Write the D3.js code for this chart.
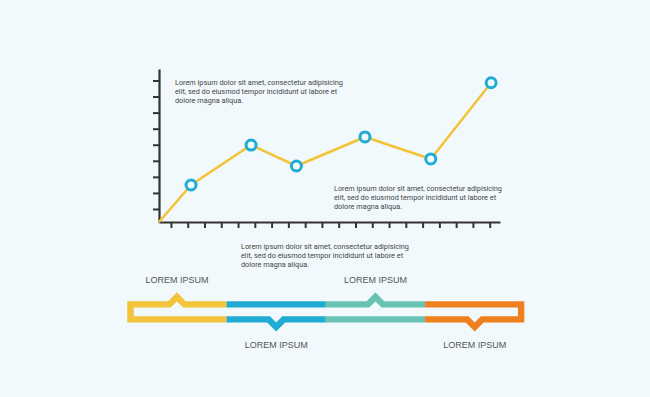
<!doctype html>
<html>
<head>
<meta charset="utf-8">
<script src="https://d3js.org/d3.v7.min.js"></script>
<style>
  html, body { margin: 0; padding: 0; background: #f1f9fd; }
  svg { display: block; }
</style>
</head>
<body>
<svg id="chart" width="650" height="397"></svg>
<script>

// line chart values (x along the axis, y height)
var xValues = [0, 9.4, 27.0, 40.3, 60.4, 79.7, 97.4];
var yValues = [0, 24.2, 50.3, 36.6, 55.6, 41.2, 91.0];

// axis ticks (no labels in the picture)
var xTicks = d3.range(20).map(function(i) { return 3.5 + i * 4.92; });
var yTicks = d3.range(9).map(function(i) { return 8.5 + i * 10.5; });

// text blocks
var noteLines = [
  "Lorem ipsum dolor sit amet, consectetur adipisicing",
  "elit, sed do eiusmod tempor incididunt ut labore et",
  "dolore magna aliqua."
];

// timeline band
var bandNames  = ["LOREM IPSUM", "LOREM IPSUM", "LOREM IPSUM", "LOREM IPSUM"];
var bandColors = ["#f3c43a", "#20abd5", "#69c2b3", "#f0801f"];
var bandSides  = ["up", "down", "up", "down"];

var svg = d3.select("#chart");

svg.append("rect")
   .attr("width", 650)
   .attr("height", 397)
   .attr("fill", "#f1f9fd");

var xScale = d3.scaleLinear().domain([0, 100]).range([159, 500]);
var yScale = d3.scaleLinear().domain([0, 100]).range([222, 69]);

var xAxis = svg.append("g")
   .attr("transform", "translate(0,222)")
   .call(d3.axisBottom(xScale).tickValues(xTicks).tickSize(6).tickSizeOuter(0).tickFormat(""));

var yAxis = svg.append("g")
   .attr("transform", "translate(159,0)")
   .call(d3.axisLeft(yScale).tickValues(yTicks).tickSize(6).tickSizeOuter(0).tickFormat(""));

svg.selectAll(".domain").attr("stroke", "#333").attr("stroke-width", 2.2);
svg.selectAll(".tick line").attr("stroke", "#333").attr("stroke-width", 2);

// paragraphs
function note(x, y) {
  var t = svg.append("text")
     .attr("x", x)
     .attr("y", y)
     .attr("font-family", "Roboto, sans-serif")
     .attr("font-size", "7.3px")
     .attr("fill", "#454545");
  t.selectAll("tspan")
   .data(noteLines)
   .enter().append("tspan")
   .attr("x", x)
   .attr("dy", function(d, i) { return i === 0 ? 0 : 9.3; })
   .text(function(d) { return d; });
}
note(175, 84.7);
note(334, 190.5);
note(241, 248.7);

// line + markers
var pts = xValues.map(function(d, i) { return [d, yValues[i]]; });

svg.append("path")
   .datum(pts)
   .attr("d", d3.line()
     .x(function(d) { return xScale(d[0]); })
     .y(function(d) { return yScale(d[1]); }))
   .attr("fill", "none")
   .attr("stroke", "#f3c43a")
   .attr("stroke-width", 2.6);

svg.selectAll(".dot")
   .data(pts.slice(1))
   .enter().append("circle")
   .attr("class", "dot")
   .attr("cx", function(d) { return xScale(d[0]); })
   .attr("cy", function(d) { return yScale(d[1]); })
   .attr("r", 5)
   .attr("fill", "#f1f9fd")
   .attr("stroke", "#20abd5")
   .attr("stroke-width", 3);

// timeline band
var bScale = d3.scaleBand().domain(d3.range(bandNames.length)).range([127.3, 524.3]);
var yTop = 304.4, yBot = 319.4, nh = 7.5, sw = 6.4;
var line = d3.line();

bandNames.forEach(function(name, i) {
  var x0 = bScale(i), x1 = x0 + bScale.bandwidth(), cx = x0 + bScale.bandwidth() / 2;
  var first = i === 0, last = i === bandNames.length - 1;
  var top = [[x0, yTop], [x1, yTop]];
  var bot = [[x0, yBot], [x1, yBot]];
  if (bandSides[i] === "up") {
    top = [[x0, yTop], [cx - nh, yTop], [cx, yTop - nh], [cx + nh, yTop], [x1, yTop]];
  } else {
    bot = [[x0, yBot], [cx - nh, yBot], [cx, yBot + nh], [cx + nh, yBot], [x1, yBot]];
  }
  var paths = [];
  if (first) {
    top[0][0] = x0 + sw / 2;
    bot[0][0] = x0 + sw / 2;
    paths.push(top.slice().reverse().concat(bot));
  } else if (last) {
    top[top.length - 1][0] = x1 - sw / 2;
    bot[bot.length - 1][0] = x1 - sw / 2;
    paths.push(top.concat(bot.slice().reverse()));
  } else {
    paths.push(top, bot);
  }
  paths.forEach(function(p) {
    svg.append("path")
       .attr("d", line(p))
       .attr("fill", "none")
       .attr("stroke", bandColors[i])
       .attr("stroke-width", sw)
       .attr("stroke-linejoin", "miter")
       .attr("stroke-linecap", "butt");
  });

  svg.append("text")
     .attr("x", cx)
     .attr("y", bandSides[i] === "up" ? 283.3 : 348.3)
     .attr("text-anchor", "middle")
     .attr("font-family", "Liberation Sans, Arial, sans-serif")
     .attr("font-size", "9px")
     .attr("fill", "#555")
     .text(name);
});

</script>
</body>
</html>
